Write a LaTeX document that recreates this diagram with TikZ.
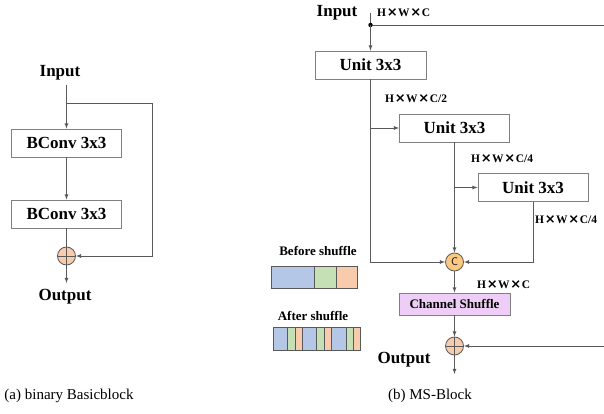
\documentclass[tikz,border=0pt]{standalone}
\usepackage{fontspec}
\setmainfont{Liberation Serif}
\newfontfamily\symfont{DejaVu Sans}
\usetikzlibrary{arrows,positioning,calc}

\definecolor{linegray}{RGB}{89,89,89}
\definecolor{boxgray}{RGB}{128,128,128}
\definecolor{chblue}{RGB}{180,199,231}
\definecolor{chgreen}{RGB}{197,224,180}
\definecolor{chorange}{RGB}{248,203,173}
\definecolor{catorange}{RGB}{250,200,130}
\definecolor{shufviolet}{RGB}{238,206,246}

\newcommand{\by}{\hspace{0.6pt}{\symfont\bfseries\fontsize{13}{13}\selectfont ×}\hspace{0.6pt}}

\tikzset{
  lbl/.style={font=\fontsize{17}{20}\selectfont\bfseries, inner sep=1pt},
  dimlbl/.style={font=\fontsize{11.5}{13}\selectfont\bfseries, inner sep=0pt, anchor=west},
  caplbl/.style={font=\fontsize{15}{18}\selectfont, inner sep=0pt},
  box/.style={draw=boxgray, line width=0.8pt, minimum width=110pt, minimum height=28pt,
    inner sep=0pt, font=\fontsize{17}{20}\selectfont\bfseries},
  shufbox/.style={box, fill=shufviolet, minimum width=111pt, minimum height=22pt,
    font=\fontsize{13}{15}\selectfont\bfseries},
  addop/.style={circle, draw=linegray, fill=chorange, line width=0.8pt, minimum size=18pt, inner sep=0pt},
  catop/.style={addop, fill=catorange, font=\sffamily\fontsize{11}{11}\selectfont},
  conn/.style={draw=linegray, line width=0.8pt},
  arr/.style={conn, -latex},
  cell/.style={draw=linegray, line width=0.8pt},
}

\begin{document}
\begin{tikzpicture}[x=1pt,y=-1pt]
\useasboundingbox (0,0) rectangle (604,414);

% (a) binary basic block
\node[lbl] (inA) at (60,73) {Input};
\coordinate (splitA) at (66.5,103);
\coordinate (turnA) at (152,103);
\node[box] (bc1) at (66.5,143) {BConv 3x3};
\node[box] (bc2) at (66.5,214) {BConv 3x3};
\node[addop] (addA) at (66.5,256) {};
\draw[conn] (addA.north) -- (addA.south) (addA.west) -- (addA.east);
\coordinate (endA) at (66.5,283);
\node[lbl] (outA) at (65,297) {Output};

\draw[conn] (splitA |- 0,85) -- (splitA);
\draw[arr] (splitA) -- (bc1.north);
\draw[arr] (bc1.south) -- (bc2.north);
\draw[conn] (bc2.south) -- (addA.north);
\draw[arr] (splitA) -- (turnA) -- (turnA |- addA) -- (addA.east);
\draw[arr] (addA.south) -- (endA);

% (b) MS-Block
\node[lbl] (inB) at (337,13) {Input};
\coordinate (dotB) at (370.5,25);
\coordinate (skipB) at (604,25);
\node[box, minimum width=111pt] (u1) at (370.5,65) {Unit 3x3};
\node[box] (u2) at (454.5,128) {Unit 3x3};
\node[box] (u3) at (533,187.5) {Unit 3x3};
\node[catop] (cat) at (454.5,262) {C};
\node[shufbox] (shuf) at (454.5,304) {Channel Shuffle};
\node[addop] (addB) at (454.5,346) {};
\draw[conn] (addB.north) -- (addB.south) (addB.west) -- (addB.east);
\coordinate (endB) at (454.5,374);
\coordinate (retB) at (604,346);
\node[lbl] (outB) at (404,360) {Output};

\draw[conn] (dotB |- 0,13) -- (dotB) -- (skipB);
\fill[black] (dotB) circle (2.2pt);
\draw[arr] (dotB) -- (u1.north);
\draw[arr] (u1.south) -- (u1.south |- cat) -- (cat.west);
\draw[arr] (u1.south |- u2) -- (u2.west);
\draw[arr] (u2.south) -- (cat.north);
\draw[arr] (u2.south |- u3) -- (u3.west);
\draw[arr] (u3.south) -- (u3.south |- cat) -- (cat.east);
\draw[arr] (cat.south) -- (shuf.north);
\draw[arr] (shuf.south) -- (addB.north);
\draw[arr] (retB) -- (addB.east);
\draw[arr] (addB.south) -- (endB);

% tensor sizes
\node[dimlbl] (d0) at (377,13) {H\by W\by C};
\node[dimlbl] (d1) at (385,99) {H\by W\by C/2};
\node[dimlbl] (d2) at (471,159) {H\by W\by C/4};
\node[dimlbl] (d3) at (535,220) {H\by W\by C/4};
\node[dimlbl] (d4) at (477,285) {H\by W\by C};

% channel groups
\node[font=\fontsize{13}{15}\selectfont\bfseries, inner sep=0pt] (before) at (318,251) {Before shuffle};
\draw[cell, fill=chblue] (271,266) rectangle (314,288);
\draw[cell, fill=chgreen] (314,266) rectangle (336,288);
\draw[cell, fill=chorange] (336,266) rectangle (357,288);
\node[font=\fontsize{13}{15}\selectfont\bfseries, inner sep=0pt] (after) at (313,316) {After shuffle};
\foreach \g in {0,1,2}{
  \draw[cell, fill=chblue] ({273.3+29.1*\g},327) rectangle ({287.7+29.1*\g},350);
  \draw[cell, fill=chgreen] ({287.7+29.1*\g},327) rectangle ({295+29.1*\g},350);
  \draw[cell, fill=chorange] ({295+29.1*\g},327) rectangle ({302.4+29.1*\g},350);
}

% captions
\node[caplbl] (capA) at (69,396) {(a) binary Basicblock};
\node[caplbl] (capB) at (430,396) {(b) MS-Block};
\end{tikzpicture}
\end{document}
